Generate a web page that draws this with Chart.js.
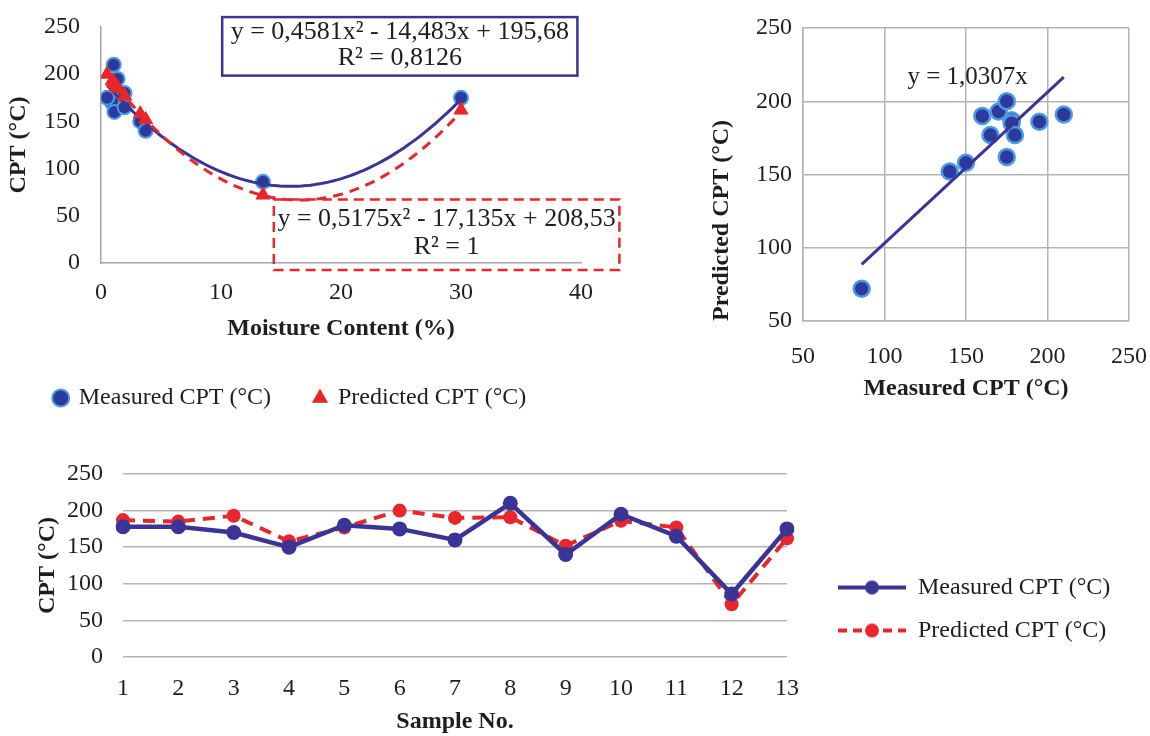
<!DOCTYPE html>
<html>
<head>
<meta charset="utf-8">
<script src="https://cdn.jsdelivr.net/npm/chart.js@4"></script>
<style>
  html, body { margin: 0; padding: 0; background: #fff; }
  body { width: 1150px; height: 736px; position: relative; overflow: hidden; }
  canvas { position: absolute; }
</style>
</head>
<body>
<canvas id="fitChart" width="640" height="420" style="left:0;top:0"></canvas>
<canvas id="parityChart" width="460" height="420" style="left:690px;top:0"></canvas>
<canvas id="sampleChart" width="1150" height="286" style="left:0;top:450px"></canvas>
<script>
// values
const sampleNo = ['1', '2', '3', '4', '5', '6', '7', '8', '9', '10', '11', '12', '13'];
const measuredCPT = [178, 178, 170, 150, 180, 175, 160, 210, 140, 195, 165, 86, 175];
const predictedCPT = [187, 185, 193, 158, 177, 200, 190, 191, 152, 186, 177, 72, 162];
const moisture = [1.31, 1.43, 0.93, 3.27, 1.96, 0.51, 1.12, 1.06, 3.72, 1.38, 1.96, 13.5, 30];

// trendline coefficients as printed on the chart (c0 + c1*x + c2*x^2)
const measuredFit = [195.68, -14.483, 0.4581];
const predictedFit = [208.53, -17.135, 0.5175];
const paritySlope = 1.0307;

const cptTicks = [0, 50, 100, 150, 200, 250];
const moistureTicks = [0, 10, 20, 30, 40];
const parityTicks = [50, 100, 150, 200, 250];

const NAVY = '#3b3497';
const DOT = '#2b3a9c';
const HALO = '#4a9be3';
const RED = '#e8262c';
const AXIS = '#a6a6a6';
const GRID = '#b4b4b4';
const TEXT = '#1e1e1e';
const NONE = 'rgba(0,0,0,0)';

Chart.defaults.font.family = "'Liberation Serif', 'Times New Roman', serif";
Chart.defaults.font.size = 24;
Chart.defaults.color = TEXT;
Chart.defaults.animation = false;

const tickRange = t => ({ min: t[0], max: t[t.length - 1] });
const step = t => t[1] - t[0];

function fitCurve(c, x0, x1, n) {
    const pts = [];
    for (let i = 0; i <= n; i++) {
        const x = x0 + (x1 - x0) * i / n;
        pts.push({ x: x, y: c[0] + c[1] * x + c[2] * x * x });
    }
    return pts;
}

// text boxes placed in data units
const textBoxes = {
    id: 'textBoxes',
    afterDraw(chart, args, opts) {
        const { ctx, scales: { x, y } } = chart;
        (opts.boxes || []).forEach(b => {
            const x0 = x.getPixelForValue(b.x[0]), x1 = x.getPixelForValue(b.x[1]);
            ctx.save();
            if (b.border) {
                const y0 = y.getPixelForValue(b.y[0]), y1 = y.getPixelForValue(b.y[1]);
                ctx.strokeStyle = b.border;
                ctx.lineWidth = 2.5;
                ctx.setLineDash(b.dash || []);
                ctx.strokeRect(x0, y0, x1 - x0, y1 - y0);
            }
            ctx.setLineDash([]);
            ctx.fillStyle = TEXT;
            ctx.font = (b.size || 24) + "px 'Liberation Serif', serif";
            ctx.textAlign = 'center';
            ctx.textBaseline = 'middle';
            b.lines.forEach((t, i) => ctx.fillText(t, (x0 + x1) / 2, y.getPixelForValue(b.lineY[i])));
            ctx.restore();
        });
    }
};

// Moisture vs CPT
const xMin = Math.min(...moisture), xMax = Math.max(...moisture);
new Chart(document.getElementById('fitChart'), {
    type: 'scatter',
    data: {
        datasets: [{
            label: 'Measured CPT (°C)',
            data: moisture.map((m, i) => ({ x: m, y: measuredCPT[i] })),
            pointStyle: 'circle',
            pointRadius: 7,
            backgroundColor: DOT,
            borderColor: HALO,
            borderWidth: 2,
            order: 3
        }, {
            label: 'Predicted CPT (°C)',
            data: moisture.map((m, i) => ({ x: m, y: predictedCPT[i] })),
            pointStyle: 'triangle',
            pointRadius: 8,
            backgroundColor: RED,
            borderColor: RED,
            order: 1
        }, {
            label: 'measured fit',
            data: fitCurve(measuredFit, xMin, xMax, 80),
            showLine: true,
            pointRadius: 0,
            borderColor: NAVY,
            borderWidth: 3,
            order: 2
        }, {
            label: 'predicted fit',
            data: fitCurve(predictedFit, xMin, xMax, 80),
            showLine: true,
            pointRadius: 0,
            borderColor: RED,
            borderWidth: 3,
            borderDash: [10, 7],
            order: 0
        }]
    },
    options: {
        responsive: false,
        layout: { padding: { left: 0, top: 27, right: 59, bottom: 0 } },
        scales: {
            x: {
                type: 'linear',
                ...tickRange(moistureTicks),
                ticks: { stepSize: step(moistureTicks), padding: 15 },
                grid: { display: false, drawTicks: false },
                border: { display: true, color: AXIS, width: 1.5 },
                title: { display: true, text: 'Moisture Content (%)', font: { weight: 'bold' }, padding: { top: 0, bottom: 0 } },
                afterFit: s => { s.height = 80; }
            },
            y: {
                ...tickRange(cptTicks),
                ticks: { stepSize: step(cptTicks), padding: 0 },
                grid: { display: true, drawOnChartArea: false, drawTicks: true, tickLength: 21, tickColor: NONE, color: NONE },
                border: { display: true, color: AXIS, width: 1.5 },
                title: { display: true, text: 'CPT (°C)', font: { weight: 'bold' }, padding: { top: 4, bottom: 0 } },
                afterFit: s => { s.width = 101; }
            }
        },
        plugins: {
            tooltip: { enabled: false },
            legend: {
                position: 'bottom',
                labels: {
                    usePointStyle: true,
                    boxWidth: 12,
                    boxHeight: 12,
                    padding: 43,
                    filter: item => item.datasetIndex < 2,
                    sort: (a, b) => a.datasetIndex - b.datasetIndex
                }
            },
            textBoxes: {
                boxes: [{
                    x: [10.1, 39.7], y: [260.5, 198.5], border: NAVY, size: 26,
                    lines: ['y = 0,4581x² - 14,483x + 195,68', 'R² = 0,8126'], lineY: [244.7, 216.9]
                }, {
                    x: [14.4, 43.2], y: [67.3, -7.5], border: RED, dash: [10, 6], size: 26,
                    lines: ['y = 0,5175x² - 17,135x + 208,53', 'R² = 1'], lineY: [45.9, 17.1]
                }]
            }
        }
    },
    plugins: [textBoxes]
});

// Measured vs predicted
const mMin = Math.min(...measuredCPT), mMax = Math.max(...measuredCPT);
new Chart(document.getElementById('parityChart'), {
    type: 'scatter',
    data: {
        datasets: [{
            label: 'CPT',
            data: measuredCPT.map((m, i) => ({ x: m, y: predictedCPT[i] })),
            pointRadius: 8,
            backgroundColor: DOT,
            borderColor: HALO,
            borderWidth: 2.5,
            order: 1
        }, {
            label: 'fit',
            data: [{ x: mMin, y: paritySlope * mMin }, { x: mMax, y: paritySlope * mMax }],
            showLine: true,
            pointRadius: 0,
            borderColor: NAVY,
            borderWidth: 3,
            order: 0
        }]
    },
    options: {
        responsive: false,
        layout: { padding: { left: 0, top: 28, right: 21, bottom: 17 } },
        scales: {
            x: {
                ...tickRange(parityTicks),
                ticks: { stepSize: step(parityTicks), padding: 0 },
                grid: { color: GRID, lineWidth: 1.5, drawTicks: true, tickLength: 21, tickColor: NONE },
                border: { display: true, color: GRID, width: 1.5 },
                title: { display: true, text: 'Measured CPT (°C)', font: { weight: 'bold' }, padding: { top: 0, bottom: 0 } },
                afterFit: s => { s.height = 82; }
            },
            y: {
                ...tickRange(parityTicks),
                ticks: { stepSize: step(parityTicks), padding: 11 },
                grid: { color: GRID, lineWidth: 1.5, drawTicks: false },
                border: { display: true, color: GRID, width: 1.5 },
                title: { display: true, text: 'Predicted CPT (°C)', align: 'start', font: { weight: 'bold' }, padding: { top: 17, bottom: 0 } },
                afterFit: s => { s.width = 113; }
            }
        },
        plugins: {
            legend: { display: false },
            tooltip: { enabled: false },
            textBoxes: { boxes: [{ x: [151, 151], lines: ['y = 1,0307x'], lineY: [216], size: 25 }] }
        }
    },
    plugins: [textBoxes]
});

// legend icons: line with a marker in the middle
function legendIcon(color, dash) {
    const c = document.createElement('canvas');
    c.width = 100; c.height = 20;
    const g = c.getContext('2d');
    g.strokeStyle = color;
    g.lineWidth = 4;
    g.setLineDash(dash);
    g.beginPath(); g.moveTo(32, 10); g.lineTo(100, 10); g.stroke();
    g.fillStyle = color;
    g.beginPath(); g.arc(66, 10, 7, 0, Math.PI * 2); g.fill();
    return c;
}
const icons = [legendIcon(NAVY, []), legendIcon(RED, [9, 6])];

// CPT by sample
new Chart(document.getElementById('sampleChart'), {
    type: 'line',
    data: {
        labels: sampleNo,
        datasets: [{
            label: 'Measured CPT (°C)',
            data: measuredCPT,
            borderColor: NAVY,
            backgroundColor: NAVY,
            borderWidth: 4.5,
            pointRadius: 7.5,
            pointBorderWidth: 0,
            tension: 0,
            order: 0
        }, {
            label: 'Predicted CPT (°C)',
            data: predictedCPT,
            borderColor: RED,
            backgroundColor: RED,
            borderWidth: 4,
            borderDash: [12, 8],
            pointRadius: 7,
            pointBorderWidth: 0,
            tension: 0,
            order: 1
        }]
    },
    options: {
        responsive: false,
        layout: { padding: { left: 0, top: 24, right: 30, bottom: 0 } },
        scales: {
            x: {
                offset: false,
                ticks: { padding: 17, autoSkip: false, maxRotation: 0 },
                grid: { display: false, drawTicks: false },
                border: { display: false },
                title: { display: true, text: 'Sample No.', font: { weight: 'bold' }, padding: { top: 0, bottom: 0 } },
                afterFit: s => { s.height = 79; }
            },
            y: {
                ...tickRange(cptTicks),
                ticks: { stepSize: step(cptTicks), padding: 0 },
                grid: { color: GRID, lineWidth: 1.5, drawTicks: true, tickLength: 20, tickColor: NONE },
                border: { display: false },
                title: { display: true, text: 'CPT (°C)', font: { weight: 'bold' }, padding: { top: 33, bottom: 0 } },
                afterFit: s => { s.width = 123; }
            }
        },
        plugins: {
            tooltip: { enabled: false },
            legend: {
                position: 'right',
                maxWidth: 333,
                // blank title only nudges the entries down a little
                title: { display: true, text: ' ', font: { size: 5 }, padding: { top: 2, bottom: 0 } },
                labels: {
                    usePointStyle: true,
                    pointStyleWidth: 100,
                    padding: 19,
                    generateLabels: chart => Chart.defaults.plugins.legend.labels.generateLabels(chart)
                        .map(item => Object.assign(item, { pointStyle: icons[item.datasetIndex] }))
                }
            }
        }
    }
});
</script>
</body>
</html>
